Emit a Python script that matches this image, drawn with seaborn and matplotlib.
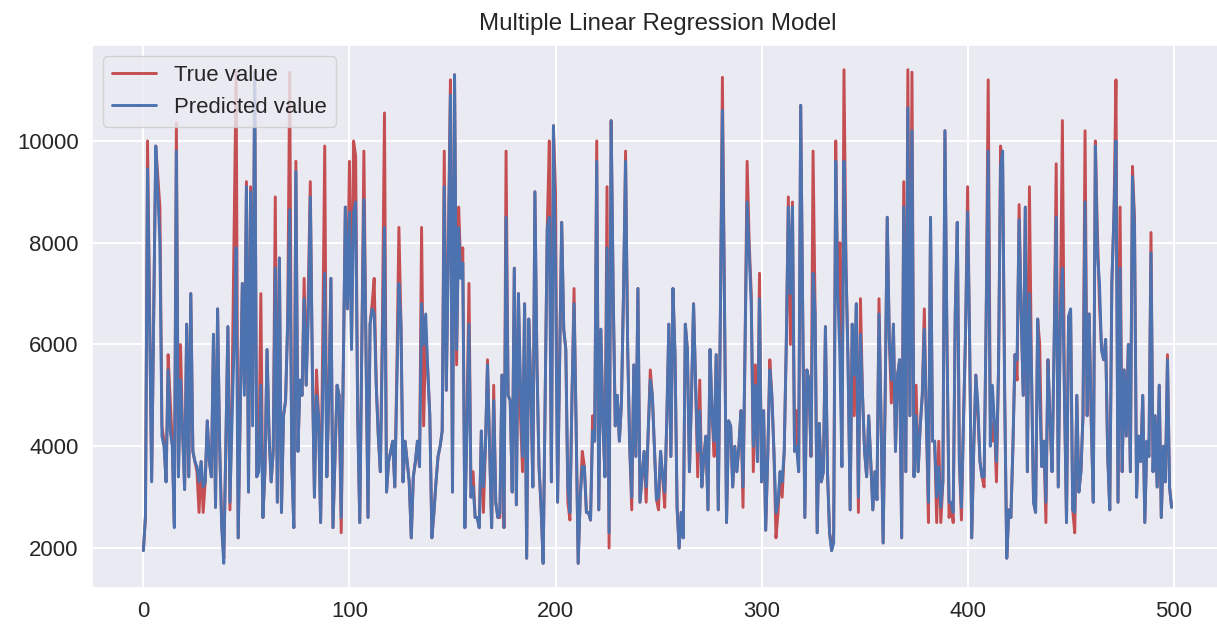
import matplotlib
matplotlib.use("Agg")
import matplotlib.pyplot as plt
import seaborn as sns
import pandas as pd

true_values = [
    1950, 2600, 10000, 6800, 3340, 6600, 9900, 9300, 8700, 4400,
    4100, 3300, 5800, 4900, 4100, 2500, 10350, 3400, 6000, 4300,
    3150, 6400, 3400, 7000, 3900, 3700, 3500, 2700, 3700, 2700,
    3300, 4500, 3700, 3400, 6200, 2800, 6700, 4000, 2500, 1800,
    4000, 6350, 2750, 5000, 8200, 11350, 2200, 4700, 7200, 5200,
    9200, 3100, 9100, 5200, 11300, 3400, 3600, 7000, 2600, 3500,
    5900, 4200, 3300, 3900, 8900, 2900, 7700, 2700, 4600, 4900,
    6400, 11350, 3700, 2400, 9600, 3900, 5300, 5000, 7300, 5200,
    7000, 9200, 5500, 3000, 5500, 4600, 2500, 6000, 9900, 3400,
    5000, 7300, 2400, 3800, 5200, 5000, 2300, 5500, 8700, 6700,
    9600, 6000, 10000, 9700, 4600, 2500, 6000, 9800, 6000, 2600,
    6400, 6800, 7300, 5200, 4200, 3500, 6500, 10550, 3100, 3700,
    3900, 4100, 3200, 5500, 8300, 6400, 3300, 4100, 3700, 3300,
    2200, 3400, 3700, 4100, 3600, 8300, 4400, 6200, 5500, 4600,
    2200, 2700, 3300, 3800, 4000, 4300, 9800, 5100, 8000, 11200,
    3100, 11300, 5600, 8700, 7500, 7900, 2400, 4500, 7200, 3000,
    3500, 2600, 2600, 2400, 4300, 2700, 4000, 5700, 4000, 2400,
    5200, 2900, 2600, 2600, 5400, 2400, 9800, 5000, 4900, 3100,
    7500, 2850, 7000, 4600, 3500, 6800, 1800, 6500, 5200, 3200,
    9000, 5600, 3600, 2800, 1700, 5000, 8300, 10000, 3300, 10300,
    9000, 2900, 5600, 8400, 6300, 5900, 2900, 2550, 5000, 7100,
    4400, 1700, 3000, 3900, 3600, 2700, 2700, 2550, 4600, 4100,
    10000, 2750, 6300, 4500, 3400, 9100, 2000, 10400, 7000, 4400,
    5000, 4100, 4850, 7000, 9800, 6000, 4000, 2750, 5600, 3800,
    7100, 2900, 3400, 3900, 2900, 4300, 5500, 5000, 4000, 2950,
    2750, 3900, 3400, 2800, 4500, 6400, 3800, 7100, 5800, 2800,
    2000, 2700, 2200, 6400, 5900, 3500, 5000, 6800, 5200, 3400,
    5300, 3200, 3800, 4200, 2750, 5900, 4600, 3800, 5800, 2750,
    6500, 11250, 6800, 2500, 4500, 4400, 3200, 4000, 3500, 4000,
    4700, 2800, 6000, 9600, 8000, 7000, 3500, 5600, 3700, 7400,
    3300, 4700, 2350, 3800, 5700, 5000, 3900, 2200, 2700, 3500,
    3000, 3900, 6000, 8900, 6000, 8800, 3900, 4700, 3500, 10700,
    6500, 2600, 5500, 5300, 3800, 9800, 6600, 2300, 4450, 3300,
    3500, 6350, 3500, 2300, 1950, 2300, 10000, 7000, 8000, 3600,
    11400, 7500, 5600, 2750, 6400, 4600, 6800, 2700, 6900, 5000,
    3900, 3400, 4600, 3700, 2750, 3500, 2950, 6900, 4500, 2100,
    5000, 8500, 6100, 4850, 6400, 3900, 5400, 5700, 2200, 9200,
    3500, 11400, 4600, 11350, 3400, 5200, 3500, 4400, 5000, 6700,
    4500, 2500, 8500, 4100, 4100, 2500, 4100, 2500, 3300, 10200,
    6000, 2600, 2900, 2500, 6600, 8400, 3700, 2550, 4500, 6200,
    9100, 6000, 2200, 4000, 5400, 4600, 3700, 3400, 3200, 6500,
    11200, 4700, 4100, 4500, 3300, 5500, 9900, 9500, 5000, 1800,
    2750, 2600, 4000, 5800, 5300, 8750, 6600, 5000, 8700, 3500,
    9100, 5500, 2900, 2700, 6500, 6000, 3600, 4100, 2500, 5700,
    4500, 3500, 6000, 9550, 3200, 6500, 10400, 5000, 2500, 6550,
    6600, 2750, 2300, 5000, 3100, 3500, 4600, 10200, 4600, 6600,
    4500, 2900, 10000, 8200, 6800, 5900, 5700, 6100, 3800, 2750,
    7200, 8500, 11200, 2900, 8700, 3500, 5500, 4200, 6000, 3500,
    9500, 8500, 3000, 4200, 3700, 5000, 2500, 4100, 3800, 8200,
    3500, 4600, 3200, 5200, 2600, 4000, 3300, 5800, 3200, 2800,
]

predicted_values = [
    1950, 2650, 9450, 6500, 3300, 6600, 9900, 9000, 8000, 4200,
    4000, 3300, 5500, 4300, 4000, 2400, 9800, 3400, 5300, 4300,
    3150, 6400, 3400, 7000, 3900, 3700, 3600, 3300, 3700, 3200,
    3300, 4500, 3700, 3400, 6200, 2800, 6700, 4000, 2400, 1700,
    4000, 6350, 2900, 4500, 6000, 7900, 2200, 4700, 7200, 5000,
    9100, 3100, 9000, 4400, 11350, 3400, 3500, 5200, 2600, 3600,
    5900, 4200, 3300, 3900, 7500, 2900, 7700, 2700, 4600, 4900,
    6400, 8650, 3700, 2400, 9400, 3900, 5300, 5000, 6900, 5200,
    6500, 8900, 5500, 3000, 5000, 4600, 2500, 5000, 7400, 3400,
    5000, 7300, 2400, 3800, 5200, 5000, 2600, 5500, 8700, 6700,
    8600, 5900, 8600, 8800, 4600, 2500, 6000, 8850, 6000, 2600,
    6400, 6700, 6600, 5200, 4200, 3500, 6000, 8300, 3100, 3700,
    3900, 4100, 3200, 5200, 7200, 6400, 3300, 4100, 3700, 3300,
    2200, 3400, 3700, 4100, 3600, 6800, 6000, 6600, 5500, 4600,
    2200, 2700, 3300, 3800, 4000, 4300, 9100, 5100, 7800, 10900,
    3100, 11300, 5900, 8300, 7300, 7600, 2400, 4300, 6400, 3000,
    3200, 2600, 2600, 2400, 4300, 3200, 4000, 5600, 4000, 2400,
    4900, 2900, 2600, 2700, 5400, 2400, 8500, 5000, 4900, 3100,
    7500, 2850, 7000, 5200, 3800, 6800, 1800, 6500, 5200, 3200,
    9000, 5600, 3600, 2800, 1700, 5000, 8300, 8500, 3300, 10300,
    7500, 2900, 5600, 8400, 6300, 5900, 3200, 2700, 5000, 6800,
    4400, 1700, 3000, 3600, 3600, 2700, 2700, 2550, 4300, 4100,
    9600, 2750, 6300, 4500, 3400, 7900, 2300, 10400, 7000, 4400,
    5000, 4100, 4850, 7000, 9600, 6000, 4000, 3000, 5600, 3800,
    7100, 2900, 3400, 3900, 3200, 4300, 5300, 5000, 4000, 2950,
    3000, 3900, 3400, 3100, 4500, 6400, 3800, 7100, 5800, 2800,
    2000, 2700, 2200, 6400, 5900, 3500, 5000, 6800, 5200, 3900,
    4700, 3200, 3800, 4200, 2750, 5900, 4600, 4100, 5800, 2750,
    6500, 10600, 6800, 2500, 4500, 4400, 3200, 4000, 3500, 4000,
    4700, 3200, 6000, 8800, 7800, 6800, 4000, 5200, 3700, 6900,
    3300, 4700, 2350, 3800, 5500, 5000, 3900, 2700, 2900, 3500,
    3300, 3900, 6000, 8700, 7000, 8700, 3900, 4000, 3500, 10700,
    6500, 2600, 5500, 5300, 3800, 7400, 6600, 2300, 4450, 3300,
    3500, 6350, 3500, 2300, 1950, 2100, 9600, 7000, 5800, 3600,
    9600, 7500, 5600, 2750, 6400, 5400, 6800, 3000, 6200, 5000,
    3900, 3400, 4600, 3700, 2750, 3500, 2950, 6600, 4500, 2100,
    5000, 8500, 6100, 5300, 6400, 3900, 5400, 5700, 2200, 8700,
    3500, 10650, 4600, 10200, 3400, 4600, 3500, 4400, 5000, 6300,
    4500, 2900, 8500, 4100, 4100, 3000, 3600, 2800, 3300, 10200,
    6000, 2900, 2900, 2700, 6600, 8400, 3700, 2800, 4500, 6200,
    8600, 6000, 2200, 4000, 5400, 4800, 3700, 3400, 3400, 6500,
    9800, 4000, 5200, 4500, 3700, 5500, 9500, 9800, 5000, 1800,
    2750, 2600, 4000, 5800, 5700, 8450, 6600, 5000, 8700, 3500,
    7000, 5500, 2900, 2700, 6500, 5000, 3600, 4100, 2900, 5700,
    4500, 3500, 6000, 8500, 3200, 6500, 7500, 5000, 2500, 6550,
    6700, 2750, 2700, 5000, 3100, 3500, 4600, 8800, 4600, 6600,
    4500, 2900, 9900, 7800, 7200, 5900, 5700, 6100, 3800, 2750,
    7200, 8500, 10000, 2900, 7500, 3500, 5500, 4200, 6000, 3500,
    9300, 8300, 3000, 4200, 3700, 5000, 2500, 4100, 3800, 7800,
    3500, 4600, 3200, 5200, 2600, 4000, 3300, 5700, 3200, 2800,
]

sample_index = list(range(len(true_values)))

sns.set_theme(style="darkgrid", color_codes=True, font_scale=1.45)
plt.rcParams["font.family"] = ["Liberation Sans", "DejaVu Sans"]
plt.rcParams["grid.linewidth"] = 1.4

df = pd.DataFrame({"idx": sample_index, "true": true_values, "pred": predicted_values})

fig = plt.figure(figsize=(12.17, 6.35), dpi=100)
ax = fig.add_axes([92 / 1217, (635 - 588) / 635, (1223 - 92) / 1217, (588 - 45) / 635])

sns.lineplot(data=df, x="idx", y="true", color="r", linewidth=2.1, label="True value", ax=ax)
sns.lineplot(data=df, x="idx", y="pred", color="b", linewidth=2.1, label="Predicted value", ax=ax)

ax.set_xlabel("")
ax.set_ylabel("")
ax.set_title("Multiple Linear Regression Model", pad=11)
ax.legend(loc="upper left")

fig.savefig("out.png", dpi=100)
